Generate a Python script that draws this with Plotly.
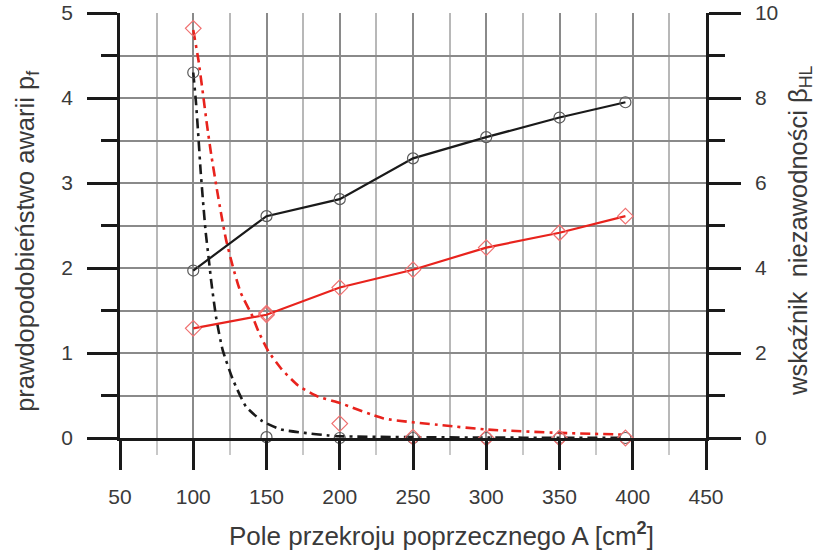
import plotly.graph_objects as go

# Cross-section area A [cm2] at which the points were computed
area = [100, 150, 200, 250, 300, 350, 395]

# Reliability index beta_HL (right axis)
beta_black = [3.94, 5.22, 5.62, 6.58, 7.08, 7.54, 7.90]
beta_red = [2.58, 2.90, 3.54, 3.96, 4.48, 4.83, 5.22]

# Failure probability p_f (left axis) - computed points
pf_black = [4.30, 0.01, 0.0, 0.0, 0.0, 0.0, 0.0]
pf_red = [4.82, 1.47, 0.17, 0.01, 0.0, 0.0, 0.0]

# Trend curves of p_f
trend_black_x = [100, 101.8, 103.3, 105, 106.7, 108.5, 110.5, 112.3, 115.6, 120, 127, 136, 147, 160, 176, 192, 200, 250, 300, 350, 395]
trend_black_y = [4.30, 3.96, 3.60, 3.15, 2.78, 2.42, 2.12, 1.84, 1.42, 1.04, 0.69, 0.37, 0.20, 0.10, 0.06, 0.03, 0.02, 0.01, 0.005, 0.003, 0.002]
trend_red_x = [100, 103.5, 106.7, 109.4, 112.3, 115.6, 119, 122.3, 126.8, 132.4, 140.2, 144.6, 151.3, 160.3, 171.4, 184.8, 200.4, 230, 270, 300, 350, 395]
trend_red_y = [4.80, 4.45, 4.04, 3.68, 3.33, 2.98, 2.64, 2.34, 2.03, 1.71, 1.44, 1.25, 1.02, 0.81, 0.62, 0.49, 0.41, 0.23, 0.15, 0.10, 0.06, 0.04]

x_ticks = [50, 100, 150, 200, 250, 300, 350, 400, 450]

BLACK = "#1a1a1a"
RED = "#e8231d"
FONT = "Liberation Sans, Arial, sans-serif"
DASH = "10px,5px,3px,5px"

fig = go.Figure()

# p_f trend curves (dash-dot)
fig.add_trace(go.Scatter(x=trend_black_x, y=trend_black_y, mode="lines",
                         line=dict(color=BLACK, width=2.6, dash=DASH, shape="spline", smoothing=0.5),
                         yaxis="y", showlegend=False, hoverinfo="skip"))
fig.add_trace(go.Scatter(x=trend_red_x, y=trend_red_y, mode="lines",
                         line=dict(color=RED, width=2.6, dash=DASH, shape="spline", smoothing=0.5),
                         yaxis="y", showlegend=False, hoverinfo="skip"))

# beta lines (solid)
fig.add_trace(go.Scatter(x=area, y=beta_black, mode="lines+markers",
                         line=dict(color=BLACK, width=2.2),
                         marker=dict(symbol="circle-open", size=11, color="#5a5a5a", line=dict(width=1.2)),
                         yaxis="y2", showlegend=False))
fig.add_trace(go.Scatter(x=area, y=beta_red, mode="lines+markers",
                         line=dict(color=RED, width=2.2),
                         marker=dict(symbol="diamond-open", size=12, color="#f07070", line=dict(width=1.2)),
                         yaxis="y2", showlegend=False))

# p_f points
fig.add_trace(go.Scatter(x=area, y=pf_black, mode="markers",
                         marker=dict(symbol="circle-open", size=11, color="#5a5a5a", line=dict(width=1.2)),
                         yaxis="y", showlegend=False, cliponaxis=False))
fig.add_trace(go.Scatter(x=area, y=pf_red, mode="markers",
                         marker=dict(symbol="diamond-open", size=12, color="#f07070", line=dict(width=1.2)),
                         yaxis="y", showlegend=False, cliponaxis=False))

tickfont = dict(family=FONT, size=21, color="#3a3a3a")

fig.update_layout(
    width=817, height=551,
    margin=dict(l=120, r=111, t=13, b=113, autoexpand=False),
    paper_bgcolor="white", plot_bgcolor="white",
    showlegend=False,
    xaxis=dict(
        range=[50, 450], tickvals=x_ticks, ticks="outside", ticklen=29, tickwidth=2.5,
        tickcolor=BLACK, showline=True, linecolor=BLACK, linewidth=2.5,
        showgrid=True, gridcolor="#8a8a8a", gridwidth=1.5, zeroline=False,
        tickfont=tickfont, ticklabelstandoff=9, automargin=False,
        minor=dict(dtick=25, ticks="outside", ticklen=14, tickwidth=1.5, tickcolor="#c8c8c8",
                   showgrid=True, gridcolor="#b8b8b8", gridwidth=1.5),
    ),
    yaxis=dict(
        range=[0, 5], dtick=1, ticks="outside", ticklen=30, tickwidth=2.5, tickcolor=BLACK,
        showline=True, linecolor=BLACK, linewidth=2.5,
        showgrid=True, gridcolor="#8a8a8a", gridwidth=1.5, zeroline=False,
        tickfont=tickfont, ticklabelstandoff=10, automargin=False,
        minor=dict(dtick=0.5, ticks="outside", ticklen=16, tickwidth=2.5, tickcolor=BLACK,
                   showgrid=True, gridcolor="#8a8a8a", gridwidth=1.5),
    ),
    yaxis2=dict(
        range=[0, 10], dtick=2, overlaying="y", side="right", ticks="outside", ticklen=32,
        tickwidth=2.5, tickcolor=BLACK, showline=True, linecolor=BLACK, linewidth=2.5,
        showgrid=False, zeroline=False, tickfont=tickfont, ticklabelstandoff=10, automargin=False,
        minor=dict(dtick=1, ticks="outside", ticklen=16, tickwidth=2.5, tickcolor=BLACK),
    ),
    annotations=[
        dict(text="Pole przekroju poprzecznego A [cm<sup><b>2</b></sup>]", xref="paper", yref="paper",
             x=0.548, y=-0.228, xanchor="center", yanchor="middle", showarrow=False,
             font=dict(family=FONT, size=26, color="#3a3a3a")),
        dict(text="prawdopodobieństwo awarii p<sub>f</sub>", xref="paper", yref="paper",
             x=-0.159, y=0.4635, xanchor="center", yanchor="middle", showarrow=False, textangle=-90,
             font=dict(family=FONT, size=25.5, color="#3a3a3a")),
        dict(text="wskaźnik\u00a0 niezawodności β<sub>HL</sub>", xref="paper", yref="paper",
             x=1.16, y=0.489, xanchor="center", yanchor="middle", showarrow=False, textangle=-90,
             font=dict(family=FONT, size=25.5, color="#3a3a3a")),
    ],
)

fig.write_html("out.html")
